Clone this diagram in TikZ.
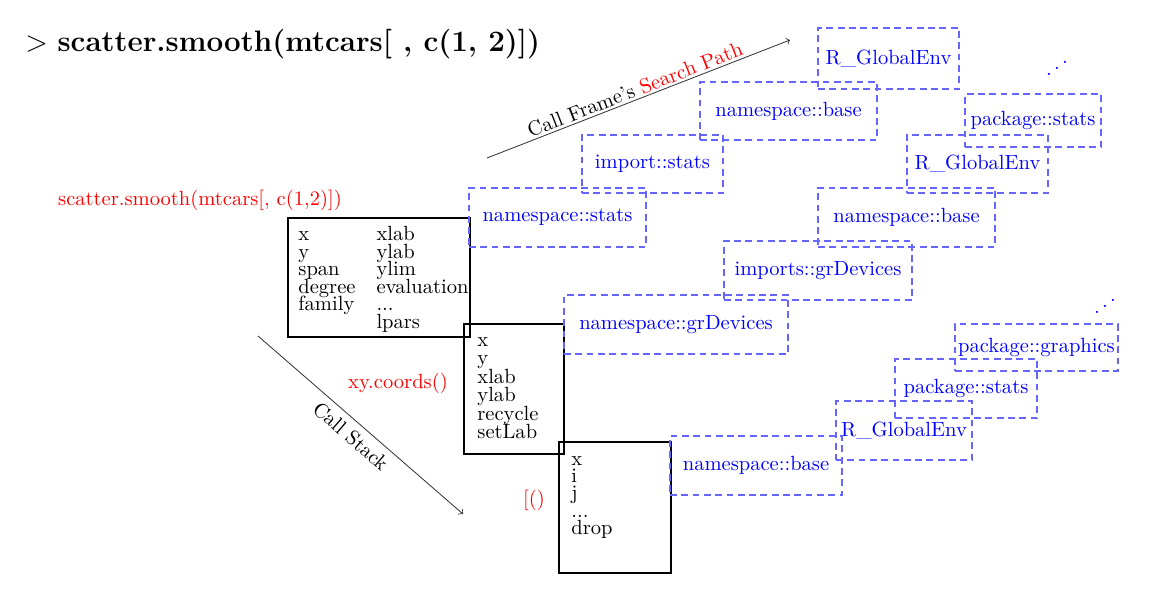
\documentclass[tikz,border=0pt]{standalone}
\usepackage{graphicx}
\usetikzlibrary{calc}
\newcommand{\px}{0.4866pt}
\newcommand{\tightlines}[1][8.5]{\fontsize{10}{#1}\selectfont\setlength{\lineskiplimit}{-\maxdimen}}
\newcommand{\col}[1]{\makebox[38pt][l]{#1}}

\begin{document}
\begin{tikzpicture}[x=\px, y=-\px,
    callframe/.style={draw, thick, anchor=north west, inner sep=0pt},
    vars/.style={anchor=base west, align=left, inner sep=0pt, font=\tightlines},
    envbox/.style={draw=blue!60, dash pattern=on 3.3pt off 2.2pt, semithick,
                   text=blue, inner sep=0pt},
    fname/.style={text=red},
    flow/.style={->, black!80}]
  \useasboundingbox (0,0) rectangle (1175,602);

  % --- 命令行 ---
  \node[anchor=base west, inner sep=0pt, font=\Large] (cmd) at (25,51)
    {$>$ \textbf{scatter.smooth(mtcars[ , c(1, 2)])}};

  % --- 调用栈帧（变量基线对齐到最后一行） ---
  \node[callframe, minimum width=182*\px, minimum height=119*\px] (f1) at (287,217) {};
  \node[callframe, minimum width=100*\px, minimum height=130*\px] (f2) at (463,323) {};
  \node[callframe, minimum width=112*\px, minimum height=131*\px] (f3) at (558,441) {};

  \node[vars] (f1v) at ($(f1.north west)+(11,111.3)$)
    {\col{x}xlab\\\col{y}ylab\\\col{span}ylim\\\col{degree}evaluation\\\col{family}...\\\col{}lpars};
  \node[vars, font={\tightlines[9]}] (f2v) at ($(f2.north west)+(14,115.5)$)
    {x\\y\\xlab\\ylab\\recycle\\setLab};
  \node[vars] (f3v) at ($(f3.north west)+(13,93.9)$) {x\\i\\j\\...\\drop};

  % --- 函数名 ---
  \node[fname] (l1) at (200,200) {scatter.smooth(mtcars[, c(1,2)])};
  \node[fname] (l2) at (398,383) {xy.coords()};
  \node[fname] (l3) at (534,500) {[()};

  % --- 箭头 ---
  \coordinate (cs0) at (258,336);
  \coordinate (cs1) at (463,514);
  \draw[flow] (cs0) -- node[sloped, below, text=black] {Call Stack} (cs1);
  \coordinate (sp0) at (487,158);
  \coordinate (sp1) at (790,40);
  \draw[flow] (sp0) -- node[sloped, above, inner sep=1pt, text=black]
    {Call Frame's \textcolor{red}{Search Path}} (sp1);

  % --- 搜索路径（环境） ---
  \foreach \n/\cx/\cy/\w/\h/\t in {
      rgea/888.5/58.5/141/61/R\_GlobalEnv,
      nsba/788.5/111/177/58/namespace::base,
      ims/652.5/164/141/58/import::stats,
      nss/557.5/217.5/177/59/namespace::stats,
      pksa/1033/120.5/136/53/package::stats,
      rgeb/977.5/164/141/58/R\_GlobalEnv,
      nsbb/906.5/217.5/177/59/namespace::base,
      igr/818/270.5/188/59/imports::grDevices,
      nsgr/676/324.5/224/59/namespace::grDevices,
      pkg/1036.5/347.5/163/47/package::graphics,
      pksb/966/388.5/142/59/package::stats,
      rgec/904/430.5/136/59/R\_GlobalEnv,
      nsbc/756/465.5/172/59/namespace::base} {
    \node[envbox, minimum width=\w*\px, minimum height=\h*\px] (\n) at (\cx,\cy) {\t};
  }

  \node[text=blue] (morea) at (1057,62) {\reflectbox{$\ddots$}};
  \node[text=blue] (moreb) at (1105,300) {\reflectbox{$\ddots$}};
\end{tikzpicture}
\end{document}
